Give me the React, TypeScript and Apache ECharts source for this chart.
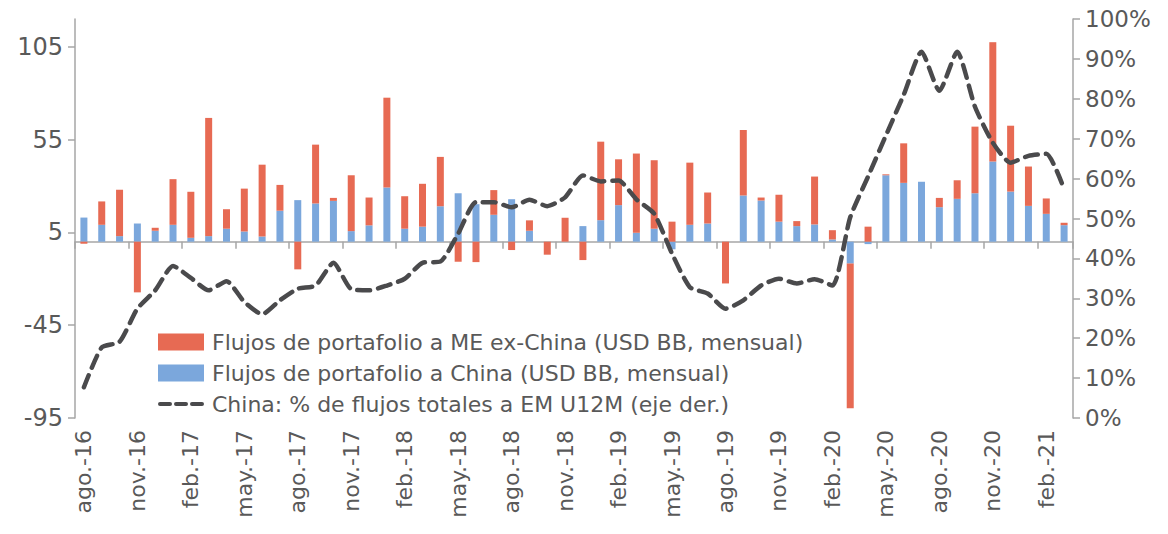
import React, { useEffect, useRef } from "react";
import * as echarts from "echarts";

const monthNames = ["ene.", "feb.", "mar.", "abr.", "may.", "jun.", "jul.", "ago.", "sep.", "oct.", "nov.", "dic."];
const categories: string[] = [];
for (let k = 0; k < 56; k++) {
  const m = (7 + k) % 12;
  const y = 16 + Math.floor((7 + k) / 12);
  categories.push(monthNames[m] + "-" + y);
}

const chinaFlows = [
  13, 9.1, 3.0, 9.8, 5.9, 9.1, 2.1, 3.0, 7.0, 5.5, 2.8, 16.7, 22.4, 20.6, 22.0, 5.7,
  8.8, 29.2, 7.0, 8.1, 19.1, 26.1, 20.2, 14.5, 22.9, 5.9, 0, 0, 8.4, 11.6, 19.7, 4.8,
  7.0, -4.1, 9.1, 9.8, 0, 24.9, 22.2, 10.8, 8.4, 9.3, 1.2, -11.8, -1.3, 35.8, 31.7, 32.3,
  18.6, 23.1, 26.1, 43.2, 27.0, 19.3, 15.0, 8.9,
];

const exChinaFlows = [
  -1.1, 12.6, 25.0, -27.3, 1.6, 24.6, 24.8, 63.7, 10.5, 23.1, 38.7, 13.9, -14.9, 31.7, 1.6, 30.1,
  15.0, 48.4, 17.5, 23.1, 26.6, -10.8, -11.0, 13.3, -4.5, 5.6, -7.0, 12.9, -9.9, 42.3, 24.7, 42.7,
  36.9, 10.8, 33.5, 16.7, -22.5, 35.3, 1.6, 14.5, 2.7, 25.8, 5.0, -78.0, 8.1, 0.5, 21.3, 0,
  5.0, 10.0, 35.9, 64.3, 35.5, 21.2, 8.3, 1.3,
];

const chinaShare = [
  7.7, 17.7, 19.1, 27.4, 32.0, 38.1, 35.1, 32.0, 34.3, 29.1, 26.0, 29.5, 32.4, 33.2, 38.9, 32.3,
  32.0, 33.2, 34.9, 38.9, 39.2, 46.2, 54.1, 54.1, 52.8, 54.7, 53.1, 55.3, 60.8, 59.3, 59.5, 54.8,
  51.2, 41.2, 32.8, 31.2, 27.4, 29.5, 33.2, 34.9, 33.7, 34.8, 33.2, 50.3, 60.5, 70.8, 81.0, 91.8,
  82.0, 91.8, 78.0, 69.0, 64.0, 65.7, 66.2, 57.4,
];

const leftTicks = [-95, -45, 5, 55, 105];

const nameEx = "Flujos de portafolio a ME ex-China (USD BB, mensual)";
const nameCn = "Flujos de portafolio a China (USD BB, mensual)";
const nameLine = "China: % de flujos totales a EM U12M (eje der.)";

const FONT = "DejaVu Sans";
const TXT = "#595959";
const AXIS = "#a6a6a6";
const LINE = "#4a4a4c";

const dashIcon =
  "path://M0,0L0.01,0L0,0.01Z M0,17L0.01,17L0,16.99Z " +
  "M2,6.5h10a2,2 0 0 1 0,4h-10a2,2 0 0 1 0,-4Z " +
  "M18,6.5h10a2,2 0 0 1 0,4h-10a2,2 0 0 1 0,-4Z " +
  "M34,6.5h10a2,2 0 0 1 0,4h-10a2,2 0 0 1 0,-4Z M46,0L45.99,0L46,0.01Z";

export default function App() {
  const ref = useRef<HTMLDivElement>(null);
  useEffect(() => {
    if (!ref.current) return;
    const chart = echarts.init(ref.current, null, { renderer: "svg" });
    chart.setOption({
      animation: false,
      textStyle: { fontFamily: FONT },
      grid: { left: 75, right: 95, top: 19, bottom: 116 },
      legend: {
        orient: "vertical",
        left: 158,
        top: 331,
        padding: 0,
        itemWidth: 46,
        itemHeight: 17,
        itemGap: 9,
        textStyle: { fontSize: 22, color: TXT, fontFamily: FONT, padding: [0, 0, 0, 3] },
        data: [
          { name: nameEx, icon: "rect" },
          { name: nameCn, icon: "rect" },
          { name: nameLine, icon: dashIcon },
        ],
      },
      xAxis: [
        {
          type: "category",
          data: categories,
          position: "bottom",
          axisLine: { show: false, onZero: false },
          axisTick: { show: false },
          axisLabel: {
            interval: 2,
            rotate: 90,
            margin: 12,
            fontSize: 22,
            color: TXT,
            fontFamily: FONT,
          },
        },
        {
          type: "category",
          data: categories,
          position: "bottom",
          axisLine: { show: true, onZero: true, onZeroAxisIndex: 0, lineStyle: { color: AXIS, width: 1.5 } },
          axisTick: { show: true, interval: 2, length: 7, lineStyle: { color: AXIS, width: 1.5 } },
          axisLabel: { show: false },
        },
      ],
      yAxis: [
        {
          type: "value",
          min: -95,
          max: 120,
          position: "left",
          splitLine: { show: false },
          axisLine: { show: true, lineStyle: { color: AXIS, width: 1.5 } },
          axisTick: { show: true, length: 7, customValues: leftTicks, lineStyle: { color: AXIS, width: 1.5 } },
          axisLabel: { customValues: leftTicks, margin: 12, fontSize: 24, color: TXT, fontFamily: FONT },
        },
        {
          type: "value",
          min: 0,
          max: 100,
          interval: 10,
          position: "right",
          splitLine: { show: false },
          axisLine: { show: true, lineStyle: { color: AXIS, width: 1.5 } },
          axisTick: { show: true, length: 7, lineStyle: { color: AXIS, width: 1.5 } },
          axisLabel: { formatter: "{value}%", margin: 12, fontSize: 23, color: TXT, fontFamily: FONT },
        },
      ],
      series: [
        {
          name: nameCn,
          type: "bar",
          stack: "flows",
          xAxisIndex: 0,
          yAxisIndex: 0,
          barWidth: 7,
          itemStyle: { color: "#7ba7dc" },
          data: chinaFlows,
        },
        {
          name: nameEx,
          type: "bar",
          stack: "flows",
          xAxisIndex: 0,
          yAxisIndex: 0,
          barWidth: 7,
          itemStyle: { color: "#e76a53" },
          data: exChinaFlows,
        },
        {
          name: nameLine,
          type: "line",
          xAxisIndex: 0,
          yAxisIndex: 1,
          symbol: "none",
          smooth: 0.2,
          lineStyle: { color: LINE, width: 4.5, type: [13, 8], cap: "round" },
          itemStyle: { color: LINE },
          data: chinaShare,
        },
      ],
    });
    return () => chart.dispose();
  }, []);
  return <div ref={ref} style={{ position: "absolute", left: 0, top: 0, width: 1168, height: 534 }} />;
}
